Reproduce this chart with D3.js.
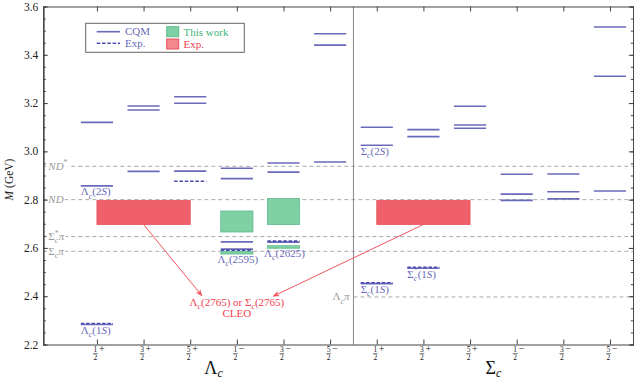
<!DOCTYPE html>
<html>
<head>
<script src="https://d3js.org/d3.v7.min.js"></script>
<style>
  body { margin: 0; background: #fff; }
  svg { display: block; font-family: "Liberation Serif", "DejaVu Serif", serif; }
  .axis path, .axis line { stroke: #444; }
  .axis text { display: none; }
</style>
</head>
<body>
<svg width="634" height="381"></svg>
<script>
// J^P categories (repeated for Λc and Σc)
const spins = ["1/2+", "3/2+", "5/2+", "1/2-", "3/2-", "5/2-"];
const groups = [{ base: "Λ", from: 0, to: 5 }, { base: "Σ", from: 6, to: 11 }];
const yTicks = [2.2, 2.4, 2.6, 2.8, 3.0, 3.2, 3.4, 3.6];

// CQM levels, GeV (one list per J^P)
const lambdaCQM = [[3.120, 2.857, 2.283], [3.188, 3.171, 2.917], [3.226, 3.199, 2.918],
                   [2.930, 2.887, 2.625, 2.595], [2.952, 2.914, 2.624], [3.487, 3.440, 2.956]];
const sigmaCQM = [[3.100, 3.025, 2.452], [3.090, 3.061, 2.516], [3.187, 3.109, 3.096],
                  [2.905, 2.823, 2.797], [2.906, 2.833, 2.803], [3.515, 3.311, 2.836]];
// experimental levels
const lambdaExp = [[2.287], [], [2.876], [2.591], [2.628], []];
const sigmaExp = [[2.456], [2.520], [], [], [], []];

// this work (green) and experimental bands (red)
const thisWork = [[3, 2.666, 2.753], [3, 2.578, 2.585], [4, 2.697, 2.805], [4, 2.602, 2.609]];
const expBands = [[0, 2, 2.697, 2.797], [6, 8, 2.697, 2.797]];

// thresholds: mass, label parts, line start (category units)
const thresholds = [
  { m: 2.938, parts: [["ND", "i"], ["*", "sup"]], start: -1.15 },
  { m: 2.800, parts: [["ND", "i"]], start: -1.15 },
  { m: 2.647, parts: [["Σ", "n"], ["c", "sub"], ["*", "supback"], ["π", "i"]], start: -1.15 },
  { m: 2.586, parts: [["Σ", "n"], ["c", "sub"], ["π", "i"]], start: -1.15 },
  { m: 2.397, parts: [["Λ", "n"], ["c", "sub"], ["π", "i"]], start: 5.5 }
];

// state names: category, mass, base, star, tail, anchor
const stateLabels = [
  [0, 2.857, "Λ", false, ["2", "S"], "start"],
  [0, 2.283, "Λ", false, ["1", "S"], "start"],
  [3, 2.578, "Λ", false, ["2595", ""], "middle"],
  [4, 2.602, "Λ", false, ["2625", ""], "middle"],
  [6, 3.025, "Σ", false, ["2", "S"], "start"],
  [6, 2.452, "Σ", false, ["1", "S"], "start"],
  [7, 2.516, "Σ", true, ["1", "S"], "start"]
];

// CLEO annotation
const arrowEnds = [[1, 2.697, 2.25, 2.402], [7, 2.697, 3.78, 2.400]];
const noteAt = [3.0, 2.361];

const blue = "#6a6abb", blueDark = "#4c4cae";
const svg = d3.select("svg");
const L = 43.3, R = 633.3, T = 6.5, B = 344.5;
const x = d3.scaleLinear().domain([-1.15, 11.5]).range([L, R]);
const y = d3.scaleLinear().domain([2.2, 3.6]).range([B, T]);
const hw = 0.345;

// text with sub/superscripts
function rich(t, parts, fs) {
  let shift = 0;
  parts.forEach(([s, k]) => {
    const small = k === "sub" || k === "sup" || k === "supback";
    const target = k === "sub" ? 0.3 * fs : small ? -0.4 * fs : 0;
    const ts = t.append("tspan").text(s).attr("dy", target - shift);
    if (small) ts.attr("font-size", fs * 0.72);
    if (k === "supback") ts.attr("dx", -0.32 * fs);
    if (k === "i" || k === "sub") ts.attr("font-style", "italic");
    shift = target;
  });
}

// thresholds
thresholds.forEach(t => {
  svg.append("line")
    .attr("x1", x(t.start)).attr("x2", R)
    .attr("y1", y(t.m)).attr("y2", y(t.m))
    .attr("stroke", "#aaa").attr("stroke-width", 1).attr("stroke-dasharray", "4,3");
});
thresholds.forEach(t => {
  const tx = t.start > 0 ? x(5.5) - 21 : L + 5;
  const g = svg.append("g");
  const bg = g.append("rect").attr("fill", "#fff");
  const txt = g.append("text").attr("x", tx).attr("y", y(t.m) + 3.5)
    .attr("fill", "#999").attr("font-size", 11);
  rich(txt, t.parts, 11);
  const bb = txt.node().getBBox();
  bg.attr("x", bb.x - 1).attr("y", y(t.m) - 3).attr("width", bb.width + 2).attr("height", 6);
});

// separator
svg.append("line").attr("x1", x(5.5)).attr("x2", x(5.5)).attr("y1", T).attr("y2", B)
  .attr("stroke", "#888").attr("stroke-width", 1);

// bands
expBands.forEach(b => {
  svg.append("rect").attr("x", x(b[0])).attr("width", x(b[1]) - x(b[0]))
    .attr("y", y(b[3])).attr("height", y(b[2]) - y(b[3]))
    .attr("fill", "#f0606a").attr("stroke", "#e8505c").attr("stroke-width", 0.8);
});
thisWork.forEach(b => {
  svg.append("rect").attr("x", x(b[0] - hw)).attr("width", x(b[0] + hw) - x(b[0] - hw))
    .attr("y", y(b[2])).attr("height", Math.max(2.5, y(b[1]) - y(b[2])))
    .attr("fill", "#80d0a6").attr("stroke", "#5dbb8a").attr("stroke-width", 0.8);
});

// levels
function levels(data, offset, dashed) {
  data.forEach((list, i) => {
    list.forEach(m => {
      svg.append("line")
        .attr("x1", x(i + offset - hw)).attr("x2", x(i + offset + hw))
        .attr("y1", y(m)).attr("y2", y(m))
        .attr("stroke", dashed ? blueDark : blue).attr("stroke-width", 1.6)
        .attr("stroke-dasharray", dashed ? "3.5,1.8" : null);
    });
  });
}
levels(lambdaCQM, 0, false);
levels(sigmaCQM, 6, false);
levels(lambdaExp, 0, true);
levels(sigmaExp, 6, true);

// state names
stateLabels.forEach(s => {
  const px = s[5] === "start" ? x(s[0] - hw) : x(s[0]) + 1;
  const t = svg.append("text").attr("x", px).attr("y", y(s[1]) + 9.5)
    .attr("fill", blue).attr("font-size", 11).attr("text-anchor", s[5]);
  const parts = [[s[2], "n"], ["c", "sub"]];
  if (s[3]) parts.push(["*", "supback"]);
  parts.push(["(" + s[4][0], "n"]);
  if (s[4][1]) parts.push([s[4][1], "i"]);
  parts.push([")", "n"]);
  rich(t, parts, 11);
});

// arrows
svg.append("defs").append("marker").attr("id", "ah")
  .attr("viewBox", "0 0 10 10").attr("refX", 9).attr("refY", 5)
  .attr("markerWidth", 7).attr("markerHeight", 7).attr("orient", "auto")
  .append("path").attr("d", "M0,1 L10,5 L0,9 L3,5 Z").attr("fill", "#f05560");
arrowEnds.forEach(a => {
  svg.append("line").attr("x1", x(a[0])).attr("y1", y(a[1]))
    .attr("x2", x(a[2])).attr("y2", y(a[3]))
    .attr("stroke", "#f05560").attr("stroke-width", 1).attr("marker-end", "url(#ah)");
});
const note = svg.append("text").attr("x", x(noteAt[0])).attr("y", y(noteAt[1]))
  .attr("fill", "#f04050").attr("font-size", 11).attr("text-anchor", "middle");
rich(note, [["Λ", "n"], ["c", "sub"], ["(2765) or Σ", "n"], ["c", "sub"], ["(2765)", "n"]], 11);
svg.append("text").attr("x", x(noteAt[0])).attr("y", y(noteAt[1]) + 11.5)
  .attr("fill", "#f04050").attr("font-size", 11).attr("text-anchor", "middle").text("CLEO");

// frame and ticks
const cats = d3.range(12);
const minor = d3.range(2.2, 3.601, 0.05).map(v => +v.toFixed(2));
svg.append("g").attr("class", "axis").attr("transform", `translate(${L},0)`)
  .call(d3.axisLeft(y).tickValues(minor).tickSize(-2.5).tickFormat(""));
svg.append("g").attr("class", "axis").attr("transform", `translate(${R},0)`)
  .call(d3.axisRight(y).tickValues(minor).tickSize(-2.5).tickFormat(""));
svg.append("g").attr("class", "axis").attr("transform", `translate(${L},0)`)
  .call(d3.axisLeft(y).tickValues(yTicks).tickSize(-4.5).tickSizeOuter(0));
svg.append("g").attr("class", "axis").attr("transform", `translate(${R},0)`)
  .call(d3.axisRight(y).tickValues(yTicks).tickSize(-4.5).tickSizeOuter(0));
svg.append("g").attr("class", "axis").attr("transform", `translate(0,${B})`)
  .call(d3.axisBottom(x).tickValues(cats).tickSize(-5).tickSizeOuter(0));
svg.append("g").attr("class", "axis").attr("transform", `translate(0,${T})`)
  .call(d3.axisTop(x).tickValues(cats).tickSize(-5).tickSizeOuter(0));
svg.selectAll(".axis path").attr("stroke-width", 1.2);

// y tick labels
yTicks.forEach(v => {
  svg.append("text").attr("x", L - 5).attr("y", y(v) + 4).attr("text-anchor", "end")
    .attr("font-size", 11.5).attr("fill", "#222").text(v.toFixed(1));
});
const yl = svg.append("text").attr("transform", `translate(13,${(T + B) / 2 + 4}) rotate(-90)`)
  .attr("text-anchor", "middle").attr("font-size", 11.5).attr("fill", "#222");
yl.append("tspan").text("M").attr("font-style", "italic");
yl.append("tspan").text(" (GeV)");

// x tick labels: fractions with parity sign
cats.forEach(i => {
  const sp = spins[i % 6];
  const cx = x(i) - 1.5;
  svg.append("text").attr("x", cx).attr("y", 352).attr("text-anchor", "middle")
    .attr("font-size", 7.5).attr("fill", "#222").text(sp[0]);
  svg.append("line").attr("x1", cx - 2.5).attr("x2", cx + 2.5).attr("y1", 353.5).attr("y2", 353.5)
    .attr("stroke", "#222").attr("stroke-width", 0.5);
  svg.append("text").attr("x", cx).attr("y", 359.5).attr("text-anchor", "middle")
    .attr("font-size", 7.5).attr("fill", "#222").text(sp[2]);
  svg.append("text").attr("x", cx + 3.5).attr("y", 352).attr("font-size", 10)
    .attr("fill", "#222").text(sp[3] === "+" ? "+" : "\u2212");
});
groups.forEach(g => {
  const t = svg.append("text").attr("x", (x(g.from) + x(g.to)) / 2).attr("y", 374)
    .attr("text-anchor", "middle").attr("font-size", 18).attr("fill", "#111");
  t.append("tspan").text(g.base);
  t.append("tspan").text("c").attr("font-size", 12).attr("font-style", "italic").attr("dy", 3);
});

// legend
const lg = svg.append("g");
lg.append("rect").attr("x", 85.7).attr("y", 23.3).attr("width", 158.6).attr("height", 29)
  .attr("fill", "#fff").attr("stroke", "#666").attr("stroke-width", 1);
lg.append("line").attr("x1", 96.7).attr("x2", 120).attr("y1", 31.7).attr("y2", 31.7)
  .attr("stroke", blue).attr("stroke-width", 1.6);
lg.append("line").attr("x1", 96.7).attr("x2", 120).attr("y1", 43.3).attr("y2", 43.3)
  .attr("stroke", blueDark).attr("stroke-width", 1.6).attr("stroke-dasharray", "3.5,1.8");
lg.append("text").attr("x", 125).attr("y", 35).attr("font-size", 11).attr("fill", blue).text("CQM");
lg.append("text").attr("x", 125).attr("y", 47).attr("font-size", 11).attr("fill", blue).text("Exp.");
lg.append("rect").attr("x", 166.7).attr("y", 26.7).attr("width", 12).attr("height", 10)
  .attr("fill", "#80d0a6").attr("stroke", "#5dbb8a");
lg.append("rect").attr("x", 166.7).attr("y", 39).attr("width", 12).attr("height", 10)
  .attr("fill", "#f4868e").attr("stroke", "#e8505c");
lg.append("text").attr("x", 183.5).attr("y", 35.5).attr("font-size", 11).attr("fill", "#3fb478").text("This work");
lg.append("text").attr("x", 183.5).attr("y", 47.5).attr("font-size", 11).attr("fill", "#f04050").text("Exp.");
</script>
</body>
</html>
